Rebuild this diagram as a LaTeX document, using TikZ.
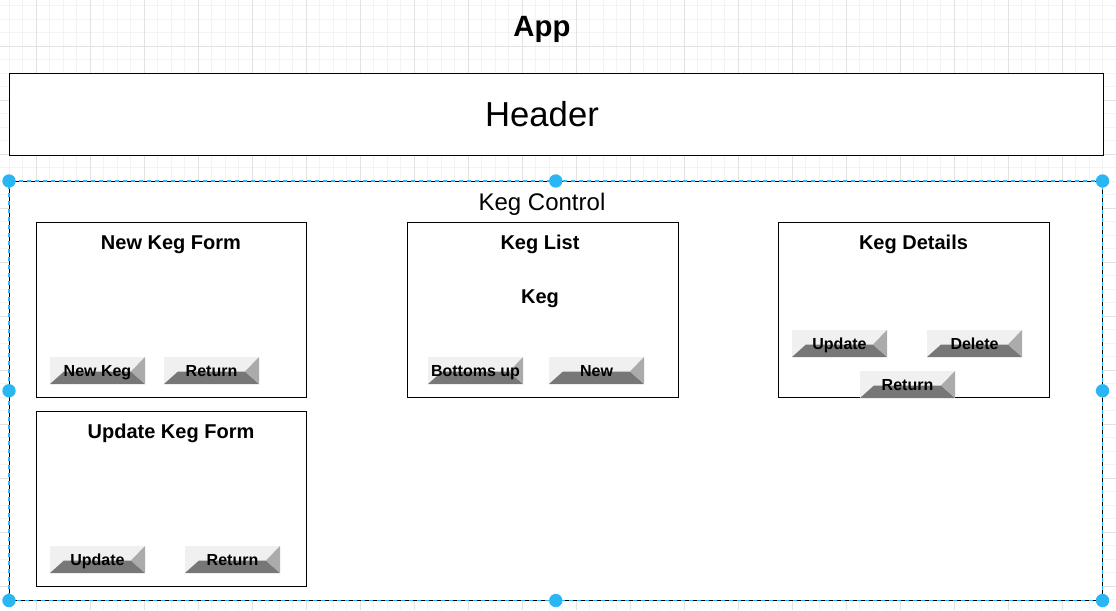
\documentclass[tikz,border=0pt]{standalone}
\usepackage{fontspec}
\setmainfont{Liberation Sans}
\usetikzlibrary{calc}

\definecolor{gridminor}{HTML}{F3F3F3}
\definecolor{gridmajor}{HTML}{E2E2E2}
\definecolor{selblue}{HTML}{29B6F2}
\definecolor{btntop}{HTML}{F0F0F0}
\definecolor{btnbottom}{HTML}{777777}
\definecolor{btnright}{HTML}{ABABAB}

\begin{document}
\begin{tikzpicture}[x=0.75pt,y=-0.75pt,
    compbox/.style={draw=black,fill=white,line width=0.9pt,inner sep=0pt,anchor=north west},
    boxtitle/.style={font=\bfseries\fontsize{15}{17}\selectfont,anchor=base},
    handle/.style={circle,fill=selblue,inner sep=0pt,minimum size=10pt},
    pics/kegbutton/.style={code={
        \fill[btntop] (0,0) rectangle (95,27);
        \fill[btnbottom] (0,27) -- (14,14.5) -- (81,14.5) -- (95,27) -- cycle;
        \fill[btnright] (95,0) -- (95,27) -- (81,14.5) -- cycle;
        \node[font=\bfseries\fontsize{12}{14}\selectfont,anchor=base] (-lbl) at (47.5,19.3) {#1};
      }}]
  \useasboundingbox[fill=white] (0,0) rectangle (1116,610);
  % grid
  \foreach \gx in {-4.5,9,...,1116}
    \draw[gridminor,line width=0.6pt] (\gx,0) -- (\gx,610);
  \foreach \gy in {5.5,19,...,610}
    \draw[gridminor,line width=0.6pt] (0,\gy) -- (1116,\gy);
  \foreach \gx in {36,90,...,1116}
    \draw[gridmajor,line width=0.6pt] (\gx,0) -- (\gx,610);
  \foreach \gy in {46,100,...,610}
    \draw[gridmajor,line width=0.6pt] (0,\gy) -- (1116,\gy);

  \node[font=\bfseries\fontsize{22}{26}\selectfont,anchor=base] (app) at (542,37) {App};

  \node[compbox,minimum width=820.5pt,minimum height=61.5pt] (header) at (9,73) {};
  \node[font=\fontsize{26}{30}\selectfont,anchor=base] (headertxt) at (542,126.5) {Header};

  % keg control
  \node[fill=white,inner sep=0pt,anchor=north west,minimum width=819.75pt,minimum height=314.25pt] (kegctrl) at (9,181) {};
  \draw[black,line width=0.6pt,dash pattern=on 3pt off 3pt] (kegctrl.north west) rectangle (kegctrl.south east);
  \draw[selblue,line width=0.9pt,dash pattern=on 3pt off 3pt,dash phase=3pt] (kegctrl.north west) rectangle (kegctrl.south east);
  \node[font=\fontsize{18}{21}\selectfont,anchor=base] (kegctrltxt) at (542,210.5) {Keg Control};

  \node[compbox,minimum width=202.5pt,minimum height=131.25pt] (newform) at (36,222) {};
  \node[boxtitle] (newformtxt) at (171,249) {New Keg Form};
  \pic (nkbtn) at (50,357) {kegbutton={New Keg}};
  \pic (nkret) at (164,357) {kegbutton={Return}};

  \node[compbox,minimum width=202.5pt,minimum height=131.25pt] (updform) at (36,411) {};
  \node[boxtitle] (updformtxt) at (171,438) {Update Keg Form};
  \pic (ukupd) at (50,546) {kegbutton={Update}};
  \pic (ukret) at (185,546) {kegbutton={Return}};

  \node[compbox,minimum width=203.25pt,minimum height=131.25pt] (keglist) at (407,222) {};
  \node[boxtitle] (keglisttxt) at (540,249) {Keg List};
  \node[boxtitle] (kegitem) at (540,303) {Keg};
  \pic (klbot) at (428,357) {kegbutton={Bottoms up}};
  \pic (klnew) at (549,357) {kegbutton={New}};

  \node[compbox,minimum width=203.25pt,minimum height=131.25pt] (kegdetails) at (778,222) {};
  \node[boxtitle] (kegdetailstxt) at (913.5,249) {Keg Details};
  \pic (kdupd) at (792,330) {kegbutton={Update}};
  \pic (kddel) at (927,330) {kegbutton={Delete}};
  \pic (kdret) at (860,371) {kegbutton={Return}};

  % selection handles
  \foreach \hp in {north west,north,north east,west,east,south west,south,south east}
    \node[handle] (h-\hp) at (kegctrl.\hp) {};
\end{tikzpicture}
\end{document}
